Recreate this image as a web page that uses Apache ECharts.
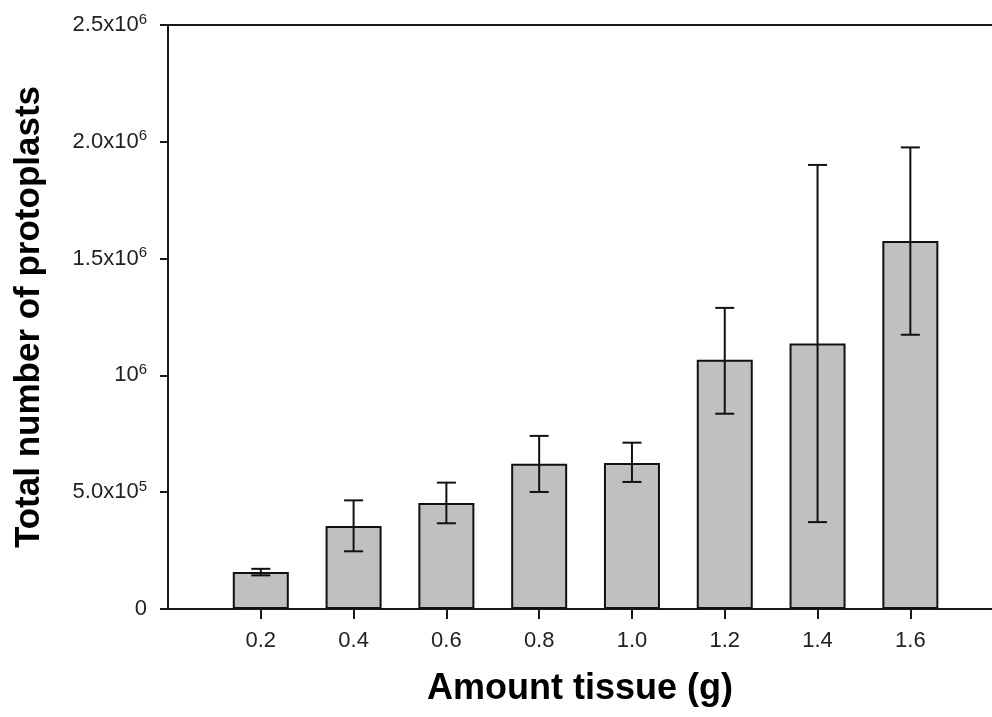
<!DOCTYPE html>
<html>
<head>
<meta charset="utf-8">
<script src="https://cdn.jsdelivr.net/npm/echarts@6/dist/echarts.min.js"></script>
<style>html,body{margin:0;padding:0;background:#fff;}#c{width:992px;height:717px;}</style>
</head>
<body>
<div id="c"></div>
<script>
// Data
const tissue = [0.2, 0.4, 0.6, 0.8, 1.0, 1.2, 1.4, 1.6];
const protoplasts = [158000, 355000, 454000, 622000, 625000, 1067000, 1137000, 1575000];
const errUpper = [172000, 465000, 541000, 741000, 712000, 1289000, 1901000, 1976000];
const errLower = [144000, 247000, 367000, 501000, 544000, 836000, 372000, 1174000];
const yTicks = [0, 500000, 1000000, 1500000, 2000000, 2500000];
const yTickLabels = ['0', '5.0x10|5', '10|6', '1.5x10|6', '2.0x10|6', '2.5x10|6'];
const xTicks = [0.2, 0.4, 0.6, 0.8, 1.0, 1.2, 1.4, 1.6];

const chart = echarts.init(document.getElementById('c'));
const font = '"Liberation Sans", Arial, sans-serif';
const axisColor = '#1a1a1a';

function yFmt(v) {
  const i = yTicks.indexOf(v);
  if (i < 0) return '';
  const parts = yTickLabels[i].split('|');
  if (parts.length === 1) return '{b|' + parts[0] + '}';
  return '{b|' + parts[0] + '}{s|' + parts[1] + '}';
}

const barData = tissue.map((x, i) => [x, protoplasts[i]]);
const errData = tissue.map((x, i) => [x, errLower[i], errUpper[i]]);

chart.setOption({
  animation: false,
  backgroundColor: '#fff',
  grid: { left: 168, right: 0, top: 25, bottom: 108, outerBoundsMode: 'none', containLabel: false },
  xAxis: [{
    type: 'value',
    min: 0,
    max: 1.776,
    interval: 0.2,
    splitLine: { show: false },
    axisLine: { show: true, onZero: false, lineStyle: { color: axisColor, width: 2 } },
    axisTick: { show: true, length: 10, customValues: xTicks, lineStyle: { color: axisColor, width: 2 } },
    axisLabel: {
      customValues: xTicks,
      margin: 21,
      fontSize: 22,
      fontFamily: font,
      color: '#222',
      formatter: v => v.toFixed(1)
    },
    name: 'Amount tissue (g)',
    nameLocation: 'middle',
    nameGap: 62,
    nameTextStyle: { fontSize: 36, fontWeight: 'bold', fontFamily: font, color: '#000' }
  }, {
    type: 'value',
    position: 'top',
    min: 0,
    max: 1.776,
    splitLine: { show: false },
    axisLine: { show: true, onZero: false, lineStyle: { color: axisColor, width: 2 } },
    axisTick: { show: false },
    axisLabel: { show: false }
  }],
  yAxis: {
    type: 'value',
    min: 0,
    max: 2500000,
    interval: 500000,
    splitLine: { show: false },
    axisLine: { show: true, onZero: false, lineStyle: { color: axisColor, width: 2 } },
    axisTick: { show: true, length: 8, lineStyle: { color: axisColor, width: 2 } },
    axisLabel: {
      margin: 21,
      formatter: yFmt,
      rich: {
        b: { fontSize: 22, fontFamily: font, color: '#222', lineHeight: 26 },
        s: { fontSize: 15, fontFamily: font, color: '#222', verticalAlign: 'top', lineHeight: 15 }
      }
    },
    name: 'Total number of protoplasts',
    nameLocation: 'middle',
    nameRotate: 90,
    nameGap: 121,
    nameTextStyle: { fontSize: 35, fontWeight: 'bold', fontFamily: font, color: '#000' }
  },
  series: [{
    type: 'bar',
    data: barData,
    barWidth: 56,
    itemStyle: { color: '#c0c0c0', borderColor: '#111', borderWidth: 2 },
    z: 2
  }, {
    type: 'custom',
    data: errData,
    z: 3,
    renderItem: function (params, api) {
      const x = api.value(0);
      const lo = api.coord([x, api.value(1)]);
      const hi = api.coord([x, api.value(2)]);
      const half = 9.5;
      const style = { stroke: '#111', lineWidth: 2 };
      return {
        type: 'group',
        children: [
          { type: 'line', shape: { x1: lo[0], y1: lo[1], x2: hi[0], y2: hi[1] }, style: style },
          { type: 'line', shape: { x1: hi[0] - half, y1: hi[1], x2: hi[0] + half, y2: hi[1] }, style: style },
          { type: 'line', shape: { x1: lo[0] - half, y1: lo[1], x2: lo[0] + half, y2: lo[1] }, style: style }
        ]
      };
    }
  }]
});
</script>
</body>
</html>
